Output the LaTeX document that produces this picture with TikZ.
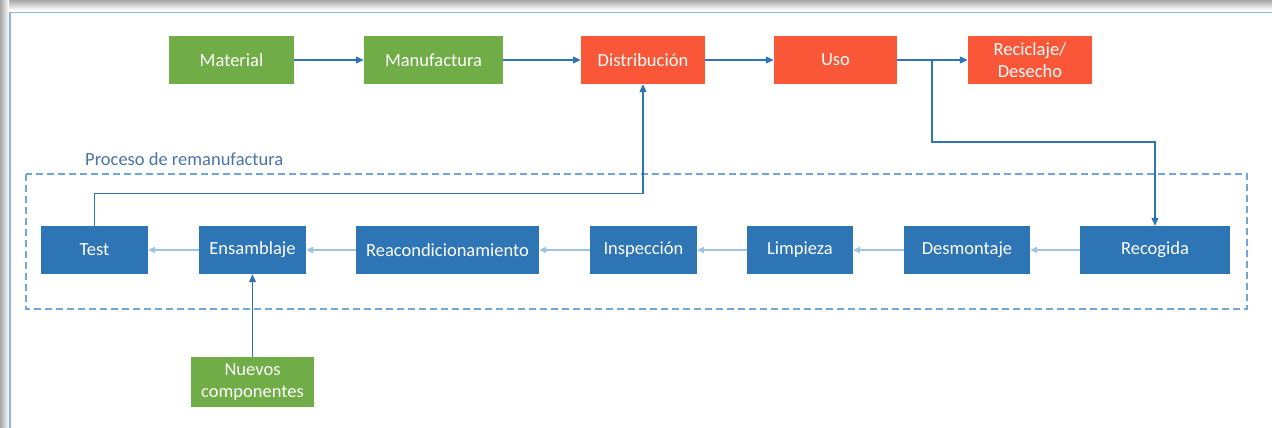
\documentclass[tikz,border=0pt]{standalone}
\usepackage{fontspec}
\setmainfont{Carlito}
\usetikzlibrary{arrows.meta}
\definecolor{cgreen}{HTML}{70AD47}
\definecolor{cred}{HTML}{FA5638}
\definecolor{cblue}{HTML}{2E75B6}
\definecolor{clight}{HTML}{9DC3E6}
\definecolor{cdash}{HTML}{6FA7D9}
\definecolor{clabel}{HTML}{4A74A6}
\definecolor{cframe}{HTML}{8DB8E2}
\tikzset{
  box/.style={draw=none, inner sep=0pt, text=white, align=center,
    font=\fontsize{18.5}{22}\selectfont, minimum height=48pt},
  gbox/.style={box, fill=cgreen},
  rbox/.style={box, fill=cred},
  bbox/.style={box, fill=cblue},
  darr/.style={draw=cblue, line width=1.2pt, -{Triangle[length=8pt,width=7pt]}},
  larr/.style={draw=clight, line width=1.2pt, -{Triangle[length=7pt,width=6.5pt]}},
}
\begin{document}
\begin{tikzpicture}[x=1pt,y=-1pt]
\useasboundingbox (0,0) rectangle (1272,428);
\fill[white] (0,0) rectangle (1272,428);
% frame shadow
\shade[top color=gray!70, bottom color=white] (0,0) rectangle (1272,10);
\shade[left color=gray!70, right color=white] (0,0) rectangle (9,428);
\fill[white] (9,10) rectangle (1272,428);
\draw[cframe, line width=1.3pt] (10,428) -- (10,12.5) -- (1272,12.5);

% top row
\node[gbox, minimum width=125pt] (mat) at (231.5,60) {Material};
\node[gbox, minimum width=139pt] (man) at (433.5,60) {Manufactura};
\node[rbox, minimum width=124pt] (dist) at (643,60) {Distribución};
\node[rbox, minimum width=123pt] (uso) at (835.5,60) {Uso};
\node[rbox, minimum width=124pt] (rec) at (1030,60) {Reciclaje/\\Desecho};

% remanufacturing box
\draw[cdash, line width=1.2pt, dash pattern=on 7pt off 4pt] (26,174) rectangle (1247,309);
\node[anchor=west, text=clabel, inner sep=0pt, font=\fontsize{18.5}{22}\selectfont] (lbl) at (85,159) {Proceso de remanufactura};

% bottom row
\node[bbox, minimum width=107pt] (test) at (94.5,250) {Test};
\node[bbox, minimum width=107pt] (ens) at (252.5,250) {Ensamblaje};
\node[bbox, minimum width=183pt] (reac) at (447.5,250) {Reacondicionamiento};
\node[bbox, minimum width=107pt] (insp) at (643.5,250) {Inspección};
\node[bbox, minimum width=106pt] (limp) at (800,250) {Limpieza};
\node[bbox, minimum width=126pt] (desm) at (967,250) {Desmontaje};
\node[bbox, minimum width=150pt] (recog) at (1155,250) {Recogida};

\node[gbox, minimum width=123pt, minimum height=50pt] (nue) at (252.5,382) {Nuevos\\componentes};

% top arrows
\draw[darr] (mat) -- (man);
\draw[darr] (man) -- (dist);
\draw[darr] (dist) -- (uso);
\draw[darr] (uso) -- (rec);
\coordinate (br) at (932,60);
\draw[darr] (br) -- (932,142) -| (recog.north);
\draw[darr] (test.north) -- ++(0,-32) -| (dist.south);
\draw[darr] (nue.north) -- (ens.south);

% bottom arrows
\draw[larr] (recog) -- (desm);
\draw[larr] (desm) -- (limp);
\draw[larr] (limp) -- (insp);
\draw[larr] (insp) -- (reac);
\draw[larr] (reac) -- (ens);
\draw[larr] (ens) -- (test);
\end{tikzpicture}
\end{document}
